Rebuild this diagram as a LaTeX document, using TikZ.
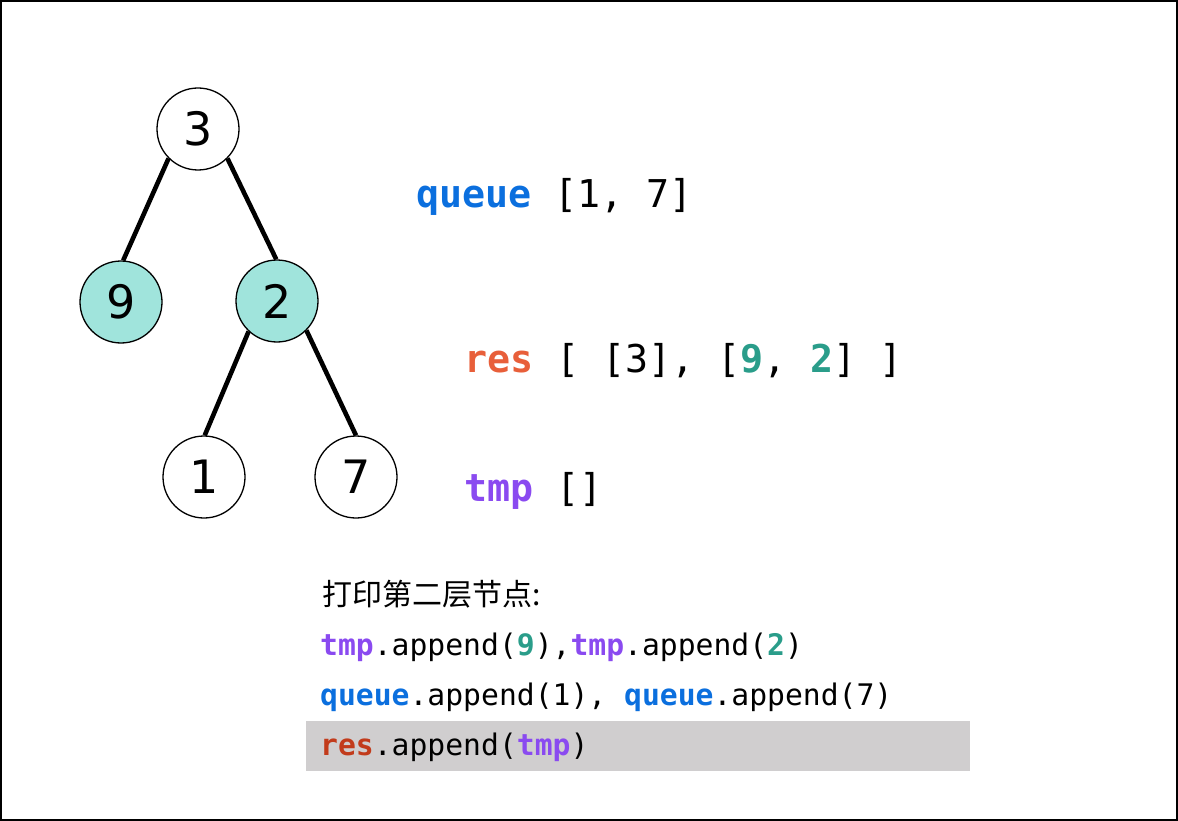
\documentclass[tikz,border=0pt]{standalone}
\usepackage{fontspec}
\setmonofont{DejaVu Sans Mono}
\newfontfamily\cjk{Noto Sans CJK SC}
\newfontfamily\digitfont{DejaVu Sans}
\definecolor{qblue}{HTML}{0B6FDE}
\definecolor{resred}{HTML}{E85F3A}
\definecolor{resdark}{HTML}{C23B1B}
\definecolor{tmppurple}{HTML}{8A4AF0}
\definecolor{tealnum}{HTML}{2A9D8A}
\definecolor{nodefill}{HTML}{A0E4DC}
\definecolor{hlgray}{HTML}{D0CECF}
\newcommand{\kw}[2]{\textcolor{#1}{\bfseries #2}}
\tikzset{
  treenode/.style={circle, draw=black, line width=1.3pt, minimum size=82pt, inner sep=0pt, fill=white, font=\digitfont\fontsize{46}{48}\selectfont},
  visited/.style={treenode, fill=nodefill},
  edge/.style={line width=4.6pt},
  bigcode/.style={anchor=base west, inner sep=0pt, font=\ttfamily\fontsize{38.3}{40}\selectfont},
  smallcode/.style={anchor=base west, inner sep=0pt, font=\ttfamily\fontsize{29.7}{32}\selectfont},
  cjktext/.style={anchor=base west, inner sep=0pt, font=\cjk\fontsize{30}{32}\selectfont}
}
\begin{document}
\begin{tikzpicture}[x=1pt,y=-1pt]
\useasboundingbox (0,0) rectangle (1178,821);
\draw[line width=2pt] (1,1) rectangle (1177,820);
% tree
\node[treenode] (n3) at (198,129) {3};
\node[visited] (n9) at (121,302) {9};
\node[visited] (n2) at (277,301) {2};
\node[treenode] (n1) at (204,477) {1};
\node[treenode] (n7) at (356,477) {7};
\draw[edge] (n3.225) -- (n9.87);
\draw[edge] (n3.315) -- (n2.91);
\draw[edge] (n2.227) -- (n1.89);
\draw[edge] (n2.315) -- (n7.90);
% state
\node[bigcode] (queue) at (416,208) {\kw{qblue}{queue} [1, 7]};
\node[bigcode] (res) at (464,372) {\kw{resred}{res} [ [3], [\kw{tealnum}{9}, \kw{tealnum}{2}] ]};
\node[bigcode] (tmp) at (464,501) {\kw{tmppurple}{tmp} []};
% bottom
\fill[hlgray] (306,721) rectangle (970,771);
\node[cjktext] (title) at (322,605) {打印第二层节点:};
\node[smallcode] (l1) at (320,655) {\kw{tmppurple}{tmp}.append(\kw{tealnum}{9}),\kw{tmppurple}{tmp}.append(\kw{tealnum}{2})};
\node[smallcode] (l2) at (320,705) {\kw{qblue}{queue}.append(1), \kw{qblue}{queue}.append(7)};
\node[smallcode] (l3) at (320,755) {\kw{resdark}{res}.append(\kw{tmppurple}{tmp})};
\end{tikzpicture}
\end{document}
